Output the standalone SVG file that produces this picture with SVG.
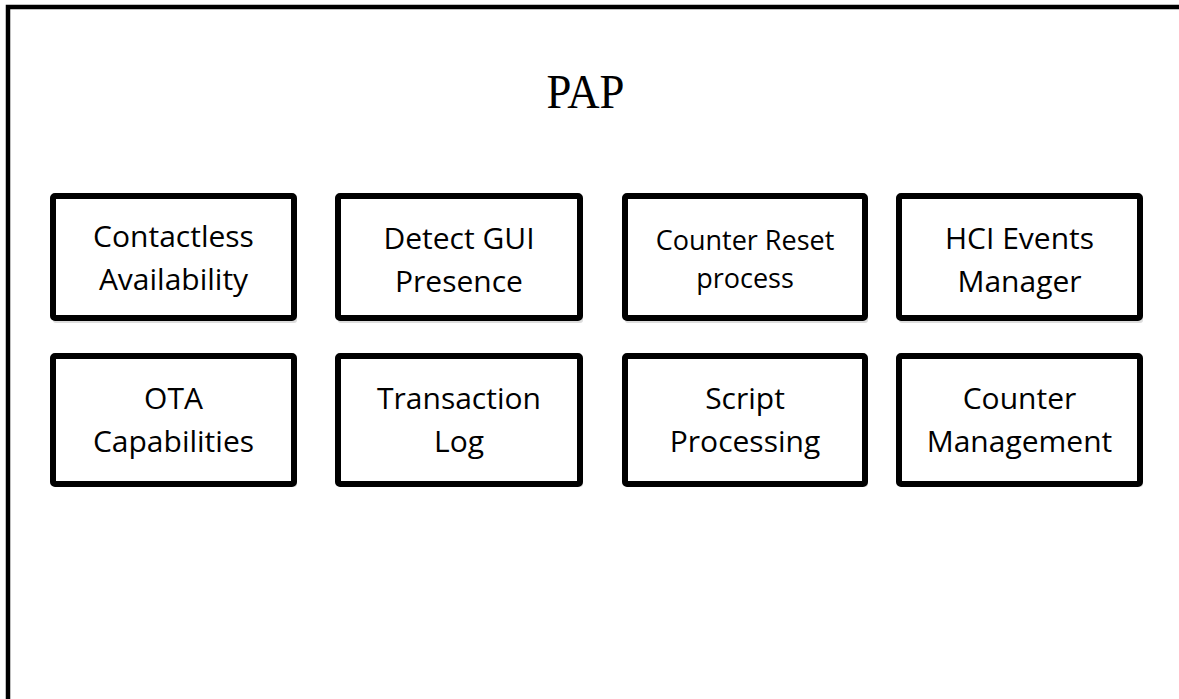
<svg xmlns="http://www.w3.org/2000/svg" width="1179" height="699" viewBox="0 0 1179 699">
<defs>
<style>
.box{fill:#fff;stroke:#000;stroke-width:6;stroke-linejoin:round}
.shadow{fill:#bbb;opacity:0.5}
.lbl{font-family:"Open Sans","Liberation Sans",sans-serif;font-size:30px;fill:#000;text-anchor:middle}
.sm{font-size:27px}
.title{font-family:"Liberation Serif","DejaVu Serif",serif;font-size:48px;fill:#000;text-anchor:middle}
</style>
</defs>
<rect width="1179" height="699" fill="#fff"/>
<path d="M8 699 V7 H1179" fill="none" stroke="#000" stroke-width="4.5"/>
<text class="title" x="585.5" y="108" textLength="78" lengthAdjust="spacingAndGlyphs">PAP</text>
<g id="contactless-availability">
<rect class="shadow" x="53" y="199" width="244" height="124" rx="3"/>
<rect class="box" x="53" y="196" width="241" height="122" rx="2"/>
<text class="lbl" x="173.5" y="247">Contactless</text>
<text class="lbl" x="173.5" y="290">Availability</text>
</g>
<g id="detect-gui-presence">
<rect class="shadow" x="338" y="199" width="245" height="124" rx="3"/>
<rect class="box" x="338" y="196" width="242" height="122" rx="2"/>
<text class="lbl" x="459" y="249">Detect GUI</text>
<text class="lbl" x="459" y="292">Presence</text>
</g>
<g id="counter-reset-process">
<rect class="shadow" x="625" y="199" width="243" height="124" rx="3"/>
<rect class="box" x="625" y="196" width="240" height="122" rx="2"/>
<text class="lbl sm" x="745" y="250">Counter Reset</text>
<text class="lbl sm" x="745" y="288">process</text>
</g>
<g id="hci-events-manager">
<rect class="shadow" x="899" y="199" width="244" height="124" rx="3"/>
<rect class="box" x="899" y="196" width="241" height="122" rx="2"/>
<text class="lbl" x="1019.5" y="249">HCI Events</text>
<text class="lbl" x="1019.5" y="292">Manager</text>
</g>
<g id="ota-capabilities">
<rect class="shadow" x="53" y="359" width="244" height="128" rx="3"/>
<rect class="box" x="53" y="356" width="241" height="128" rx="2"/>
<text class="lbl" x="173.5" y="409">OTA</text>
<text class="lbl" x="173.5" y="452">Capabilities</text>
</g>
<g id="transaction-log">
<rect class="shadow" x="338" y="359" width="245" height="128" rx="3"/>
<rect class="box" x="338" y="356" width="242" height="128" rx="2"/>
<text class="lbl" x="459" y="409">Transaction</text>
<text class="lbl" x="459" y="452">Log</text>
</g>
<g id="script-processing">
<rect class="shadow" x="625" y="359" width="243" height="128" rx="3"/>
<rect class="box" x="625" y="356" width="240" height="128" rx="2"/>
<text class="lbl" x="745" y="409">Script</text>
<text class="lbl" x="745" y="452">Processing</text>
</g>
<g id="counter-management">
<rect class="shadow" x="899" y="359" width="244" height="128" rx="3"/>
<rect class="box" x="899" y="356" width="241" height="128" rx="2"/>
<text class="lbl" x="1019.5" y="409">Counter</text>
<text class="lbl" x="1019.5" y="452">Management</text>
</g>
<g id="connectors"></g>
</svg>
